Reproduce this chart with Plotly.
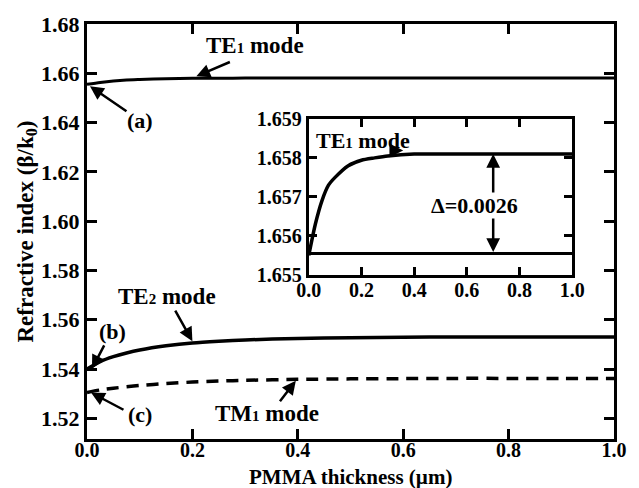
import plotly.graph_objects as go

# ---- data ----
thickness = [0.0, 0.025, 0.05, 0.075, 0.1, 0.15, 0.2, 0.25, 0.3, 0.4, 0.5, 0.6, 0.7, 0.8, 0.9, 1.0]
te1 = [1.6555, 1.6563, 1.6569, 1.6573, 1.6575, 1.6578, 1.65794, 1.65800, 1.65805, 1.6581,
       1.6581, 1.6581, 1.6581, 1.6581, 1.6581, 1.6581]
te2 = [1.5400, 1.5430, 1.5450, 1.5465, 1.5477, 1.5494, 1.5506, 1.5513, 1.5518, 1.5524,
       1.5527, 1.5529, 1.5530, 1.5530, 1.5530, 1.5530]
tm1 = [1.5305, 1.5315, 1.5322, 1.5328, 1.5333, 1.5341, 1.5347, 1.5351, 1.5354, 1.5358,
       1.5360, 1.5361, 1.5362, 1.5362, 1.5362, 1.5362]
substrate_x = [0.0, 1.0]
substrate_te1 = [1.65555, 1.65555]

main_xticks = [0.0, 0.2, 0.4, 0.6, 0.8, 1.0]
main_yticks = [1.52, 1.54, 1.56, 1.58, 1.60, 1.62, 1.64, 1.66, 1.68]
inset_yticks = [1.655, 1.656, 1.657, 1.658, 1.659]

FONT = "Times New Roman, Liberation Serif, DejaVu Serif, serif"

L, R, T, B = 87, 617, 19, 439

fig = go.Figure()
spl = dict(shape="spline", smoothing=0.7)
fig.add_trace(go.Scatter(x=thickness, y=te1, mode="lines", line=dict(color="black", width=3, **spl),
                         xaxis="x", yaxis="y", showlegend=False))
fig.add_trace(go.Scatter(x=thickness, y=te2, mode="lines", line=dict(color="black", width=3.5, **spl),
                         xaxis="x", yaxis="y", showlegend=False))
fig.add_trace(go.Scatter(x=thickness, y=tm1, mode="lines",
                         line=dict(color="black", width=3.5, dash="12px,8px", **spl),
                         xaxis="x", yaxis="y", showlegend=False))
# inset
fig.add_trace(go.Scatter(x=thickness, y=te1, mode="lines", line=dict(color="black", width=3.5, **spl),
                         xaxis="x2", yaxis="y2", showlegend=False))
fig.add_trace(go.Scatter(x=substrate_x, y=substrate_te1, mode="lines", line=dict(color="black", width=3),
                         xaxis="x2", yaxis="y2", showlegend=False))


def axcommon(size):
    return dict(showline=True, linecolor="black", linewidth=3, mirror="ticks", ticks="inside",
                tickcolor="black", tickwidth=2.5, showgrid=False, zeroline=False,
                tickfont=dict(family=FONT, size=size, color="black", weight="bold"))


fig.update_layout(
    width=639, height=488,
    margin=dict(l=L, r=639 - R, t=T, b=488 - B),
    paper_bgcolor="white", plot_bgcolor="white",
    font=dict(family=FONT),
    xaxis=dict(domain=[0, 1], range=[0, 1.0], tickvals=main_xticks, ticktext=[f"{v:.1f}" for v in main_xticks],
               ticklen=10, ticklabelstandoff=-9, **axcommon(20)),
    yaxis=dict(domain=[0, 1], range=[1.5116, 1.68], tickvals=main_yticks,
               ticktext=[f"{v:.2f}" for v in main_yticks], ticklen=10,
               title=dict(text="Refractive index (β/k<sub>0</sub>)", standoff=2,
                          font=dict(family=FONT, size=23, color="black", weight="bold")),
               **axcommon(22)),
    xaxis2=dict(domain=[(310 - L) / (R - L), (575 - L) / (R - L)], range=[0, 1.0], anchor="y2",
                tickvals=main_xticks, ticktext=[f"{v:.1f}" for v in main_xticks], ticklen=8,
                ticklabelstandoff=-5, **axcommon(20)),
    yaxis2=dict(domain=[(B - 273) / (B - T), (B - 115) / (B - T)], range=[1.655, 1.659], anchor="x2",
                tickvals=inset_yticks, ticktext=[f"{v:.3f}" for v in inset_yticks], ticklen=8, **axcommon(20)),
)


def px_to_paper(px, py):
    return (px - L) / (R - L), (B - py) / (B - T)


def text_ann(px, py, text, size=22):
    xx, yy = px_to_paper(px, py)
    return dict(x=xx, y=yy, xref="paper", yref="paper", text=text, showarrow=False,
                font=dict(family=FONT, size=size, color="black", weight="bold"), xanchor="center", yanchor="middle")


def arrow_ann(tip_px, tail_px):
    tx, ty = px_to_paper(*tip_px)
    return dict(x=tx, y=ty, xref="paper", yref="paper", ax=tail_px[0] - tip_px[0], ay=tail_px[1] - tip_px[1],
                text="", showarrow=True, arrowhead=2, arrowsize=1.1, arrowwidth=2.5, arrowcolor="black", standoff=0)


te1_txt = "TE<span style='font-size:15px'>1</span> mode"
te2_txt = "TE<span style='font-size:15px'>2</span> mode"
tm1_txt = "TM<span style='font-size:15px'>1</span> mode"

anns = [
    text_ann(352, 477, "PMMA thickness (µm)", size=21),
    text_ann(256, 41, te1_txt, size=23),
    arrow_ann((197, 72), (232, 57)),
    text_ann(140, 117, "(a)"),
    arrow_ann((90, 82), (128, 108)),
    text_ann(167, 295, te2_txt, size=23),
    arrow_ann((193, 340), (175, 308)),
    text_ann(113, 330, "(b)"),
    arrow_ann((92, 368), (105, 343)),
    text_ann(140, 414, "(c)"),
    arrow_ann((91, 392), (125, 410)),
    text_ann(268, 413, tm1_txt, size=23),
    arrow_ann((297, 380), (280, 402)),
    # inset
    text_ann(365, 137, te1_txt, size=22),
    arrow_ann((405, 147), (392, 147)),
    dict(x=0.7, y=1.6581, xref="x2", yref="y2", ax=0.7, ay=1.65555, axref="x2", ayref="y2",
         text="", showarrow=True, arrowhead=2, arrowside="end+start", arrowsize=1.1, arrowwidth=2.5,
         arrowcolor="black", standoff=0, startstandoff=0),
    dict(x=0.63, y=1.65677, xref="x2", yref="y2", text="Δ=0.0026", showarrow=False, bgcolor="white",
         font=dict(family=FONT, size=22, color="black", weight="bold"), borderpad=0),
]
fig.update_layout(annotations=anns)

fig.write_html("out.html")
